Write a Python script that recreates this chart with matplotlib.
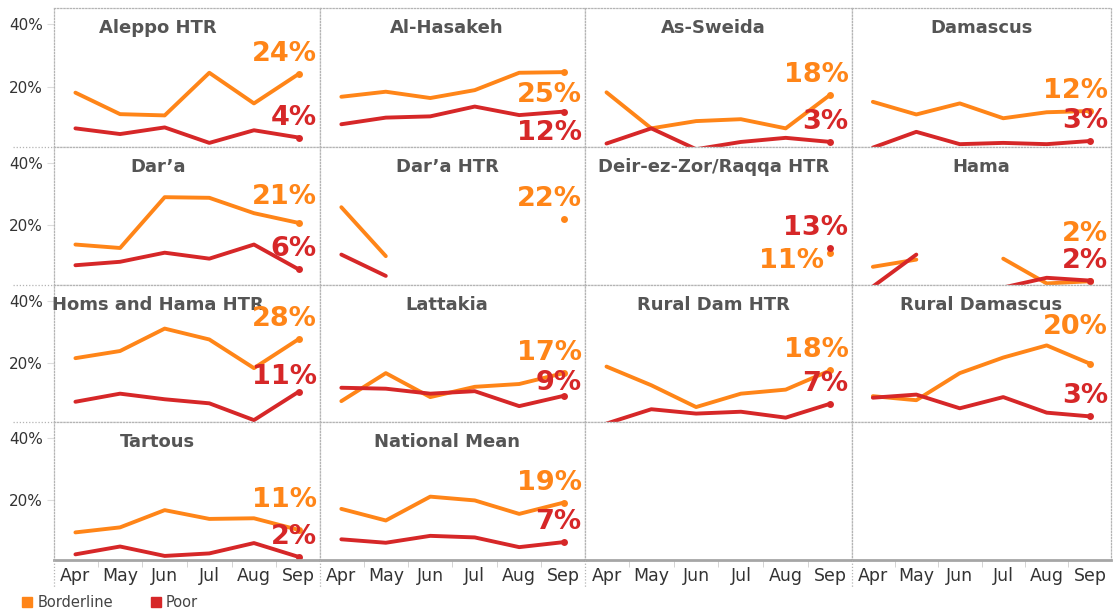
import numpy as np
import matplotlib.pyplot as plt
from matplotlib.lines import Line2D

nan = np.nan
months = ['Apr', 'May', 'Jun', 'Jul', 'Aug', 'Sep']
regions = ['Aleppo HTR', 'Al-Hasakeh', 'As-Sweida', 'Damascus',
           'Dar\u2019a', 'Dar\u2019a HTR', 'Deir-ez-Zor/Raqqa HTR', 'Hama',
           'Homs and Hama HTR', 'Lattakia', 'Rural Dam HTR', 'Rural Damascus',
           'Tartous', 'National Mean']

# % of households, Apr..Sep
borderline = [
    [18.2, 11.4, 11.0, 24.5, 14.8, 24.1],
    [16.9, 18.5, 16.5, 19.0, 24.5, 24.7],
    [18.3, 6.9, 9.2, 9.8, 6.9, 17.6],
    [15.3, 11.3, 14.8, 10.1, 12.0, 12.4],
    [13.9, 12.8, 29.0, 28.8, 23.9, 20.8],
    [25.8, 10.2, nan, nan, nan, 21.9],
    [nan, nan, nan, nan, nan, 11.3],
    [6.8, 9.1, nan, 9.4, 1.5, 2.2],
    [21.5, 23.8, 31.0, 27.5, 18.3, 27.6],
    [7.7, 16.7, 9.0, 12.3, 13.2, 16.7],
    [18.8, 12.8, 5.8, 10.1, 11.4, 17.6],
    [9.3, 8.0, 16.7, 21.7, 25.6, 19.7],
    [9.8, 11.4, 16.9, 14.1, 14.3, 10.6],
    [17.3, 13.6, 21.2, 20.0, 15.7, 19.3],
]
poor = [
    [6.9, 5.1, 7.2, 2.3, 6.3, 4.0],
    [8.2, 10.3, 10.7, 13.8, 11.1, 12.2],
    [2.1, 6.9, 0.3, 2.6, 3.9, 2.6],
    [0.8, 5.8, 1.9, 2.3, 1.9, 2.9],
    [7.3, 8.4, 11.3, 9.4, 13.9, 6.0],
    [10.7, 3.9, nan, nan, nan, nan],
    [nan, nan, nan, nan, nan, 12.9],
    [0.5, 10.7, nan, 0.2, 3.3, 2.4],
    [7.5, 10.1, 8.3, 7.0, 1.6, 10.7],
    [12.0, 11.7, 10.1, 10.9, 6.1, 9.4],
    [0.5, 5.1, 3.7, 4.3, 2.4, 6.9],
    [8.8, 9.8, 5.4, 9.0, 4.0, 2.8],
    [2.8, 5.3, 2.3, 3.1, 6.4, 2.0],
    [7.6, 6.5, 8.7, 8.2, 5.1, 6.7],
]

ORANGE = '#FF8518'
RED = '#D62728'
GRID = '#b4b4b4'

# label offsets in pixels (dx, dy, va, ha) for the end labels
lab_b = {i: (18, 7, 'bottom', 'right') for i in range(14)}
lab_p = {i: (18, 7, 'bottom', 'right') for i in range(14)}
lab_b[1] = (18, -10, 'top', 'right')
lab_p[1] = (18, -8, 'top', 'right')
lab_b[4] = (18, 13, 'bottom', 'right')
lab_b[6] = (-6, -8, 'center', 'right')
lab_b[7] = (18, 34, 'bottom', 'right')
lab_p[8] = (18, 2, 'bottom', 'right')
lab_p[9] = (18, 0, 'bottom', 'right')
lab_b[11] = (18, 24, 'bottom', 'right')
lab_b[12] = (18, 17, 'bottom', 'right')

W, H = 1113, 609
fig = plt.figure(figsize=(W / 100, H / 100), dpi=100)

col_x = [54, 320, 585, 852, 1111]
row_y = [8, 147, 285, 422, 560]
title_x = [0.39, 0.48, 0.48, 0.50]
x = np.arange(6)

for r in range(4):
    for c in range(4):
        x0, x1 = col_x[c], col_x[c + 1]
        y0, y1 = row_y[r], row_y[r + 1]
        ax = fig.add_axes([x0 / W, 1 - y1 / H, (x1 - x0) / W, (y1 - y0) / H])
        ax.set_xlim(-0.48, 5.48)
        ax.set_ylim(1, 45)
        for s in ax.spines.values():
            s.set_linestyle((0, (1, 1.5)))
            s.set_color(GRID)
            s.set_linewidth(0.9)
        ax.set_yticks([20, 40])
        if c == 0:
            ax.set_yticklabels(['20%', '40%'], fontsize=11, color='#333')
            ax.tick_params(axis='y', length=5, color='#ddd', pad=3)
        else:
            ax.tick_params(axis='y', length=0, labelleft=False)
        ax.set_xticks(x)
        ax.set_xticks(np.arange(0.5, 5, 1), minor=True)
        if r == 3:
            ax.spines['bottom'].set_linestyle('-')
            ax.spines['bottom'].set_color('#a6a6a6')
            ax.spines['bottom'].set_linewidth(2)
            ax.set_xticklabels(months, fontsize=12.5, color='#333')
            ax.tick_params(axis='x', which='major', length=0, pad=5)
            ax.tick_params(axis='x', which='minor', length=5, color='#ccc')
        else:
            ax.tick_params(axis='x', which='both', length=0, labelbottom=False)

        i = r * 4 + c
        if i >= len(regions):
            continue
        ax.text(title_x[c], 1 - 20 / (y1 - y0), regions[i], transform=ax.transAxes,
                ha='center', va='center', fontsize=13, fontweight='bold', color='#555')
        for vals, col, lab in [(borderline[i], ORANGE, lab_b[i]), (poor[i], RED, lab_p[i])]:
            v = np.array(vals, dtype=float)
            ax.plot(x, v, color=col, lw=2.8, solid_capstyle='round')
            last = v[-1]
            if np.isnan(last):
                continue
            ax.plot(x[-1], last, 'o', color=col, ms=5, mec='none')
            dx, dy, va, ha = lab
            ax.annotate(f'{int(last + 0.5)}%', (x[-1], last), xytext=(dx, dy),
                        textcoords='offset pixels', ha=ha, va=va, fontsize=19.5,
                        fontweight='bold', color=col, annotation_clip=False)

# extra dotted separators in the header areas
for yy in row_y[1:4]:
    fig.add_artist(Line2D([13 / W, 54 / W], [1 - yy / H, 1 - yy / H],
                          ls=(0, (1, 1.5)), color=GRID, lw=0.9))
for xx in col_x[:4]:
    fig.add_artist(Line2D([xx / W, xx / W], [1 - 560 / H, 1 - 588 / H],
                          ls=(0, (1, 1.5)), color=GRID, lw=0.9))

handles = [Line2D([], [], marker='s', ls='', color=ORANGE, ms=7, label='Borderline'),
           Line2D([], [], marker='s', ls='', color=RED, ms=7, label='Poor')]
leg = fig.legend(handles=handles, loc='lower left', bbox_to_anchor=(7 / W, -14 / H),
                 ncol=2, frameon=False, fontsize=10.5, handletextpad=0.2,
                 columnspacing=2.4, handlelength=1.0)
for t in leg.get_texts():
    t.set_color('#444')

fig.savefig('out.png', dpi=100)
